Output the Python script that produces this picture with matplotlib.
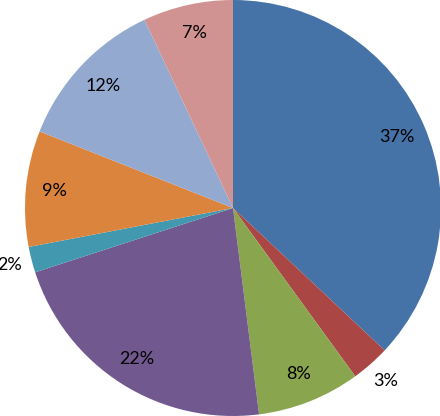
import numpy as np
import matplotlib
matplotlib.use("Agg")
import matplotlib.pyplot as plt

# parts du camembert, dans l'ordre horaire depuis le haut
valeurs = [37, 3, 8, 22, 2, 9, 12, 7]
etiquettes = ["37%", "3%", "8%", "22%", "2%", "9%", "12%", "7%"]
couleurs = ["#4572A7", "#AA4643", "#89A54E", "#71588F",
            "#4198AF", "#DB843D", "#93A9CF", "#D19392"]
dehors = [False, True, False, False, True, False, False, False]

plt.rcParams['font.family'] = ['Lato', 'DejaVu Sans']

fig = plt.figure(figsize=(4.40, 4.16), dpi=100)
ax = fig.add_axes([25 / 440, 0, 416 / 440, 1])

wedges, _ = ax.pie(valeurs, colors=couleurs, startangle=90, counterclock=False,
                   wedgeprops=dict(linewidth=0))

for w, txt, ext in zip(wedges, etiquettes, dehors):
    ang = np.deg2rad((w.theta1 + w.theta2) / 2)
    d = 1.11 if ext else 0.86
    ax.text(d * np.cos(ang), d * np.sin(ang), txt, ha="center", va="center",
            fontsize=13, color="black")

ax.set_xlim(-1, 1)
ax.set_ylim(-1, 1)
ax.set_aspect("equal")
ax.axis("off")

fig.savefig("out.png", dpi=100)
